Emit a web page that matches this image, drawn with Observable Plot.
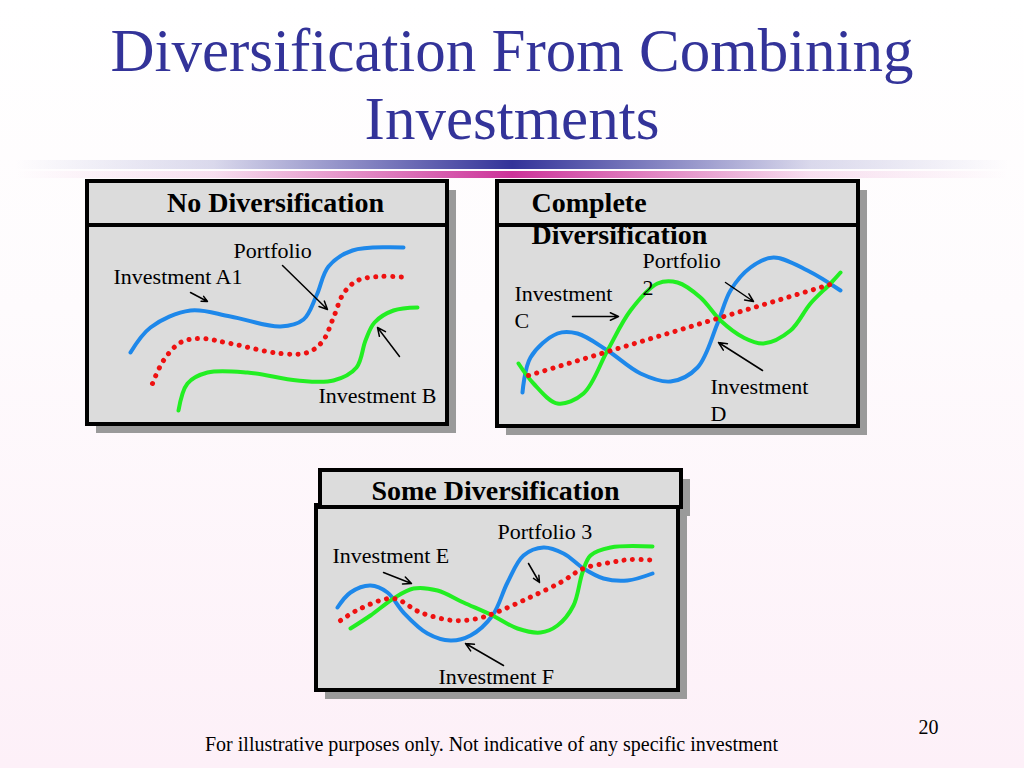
<!DOCTYPE html>
<html>
<head>
<meta charset="utf-8">
<script src="https://cdn.jsdelivr.net/npm/d3@7"></script>
<script src="https://cdn.jsdelivr.net/npm/@observablehq/plot@0.6"></script>
<style>
  html, body { margin: 0; padding: 0; }
  #slide { position: relative; width: 1024px; height: 768px; overflow: hidden;
    background: linear-gradient(to bottom, #ffffff 0%, #fefbfd 40%, #fdf0f8 100%);
    font-family: "Liberation Serif", "Times New Roman", serif; }
  #title { position: absolute; left: 0; top: 17px; width: 1024px; text-align: center;
    color: #333399; font-size: 61px; line-height: 68px; white-space: nowrap; }
  .bar { position: absolute; left: 15px; width: 994px; }
  #bar1 { top: 160px; height: 9px; background: linear-gradient(to right, rgba(51,51,153,0) 0%, rgba(51,51,153,0.18) 20%, #333399 50%, rgba(51,51,153,0.18) 80%, rgba(51,51,153,0) 100%); }
  #bar2 { top: 171px; height: 7px; background: linear-gradient(to right, rgba(204,51,153,0) 0%, rgba(204,51,153,0.15) 20%, #cc3399 50%, rgba(204,51,153,0.15) 80%, rgba(204,51,153,0) 100%); }
  #chart { position: absolute; left: 0; top: 0; }
</style>
</head>
<body>
<div id="slide">
  <div id="title">Diversification From Combining<br>Investments</div>
  <div class="bar" id="bar1"></div>
  <div class="bar" id="bar2"></div>
  <div id="chart"></div>
</div>
<script>
// ---------- data ----------
const panelHeaders = [
  {x1: 87, y1: 181, x2: 447, y2: 225},
  {x1: 497, y1: 181, x2: 858, y2: 225},
  {x1: 320, y1: 470, x2: 681, y2: 507}
];
const panelBodies = [
  {x1: 87, y1: 225, x2: 447, y2: 424},
  {x1: 497, y1: 225, x2: 858, y2: 426},
  {x1: 316, y1: 505, x2: 678, y2: 690}
];
const shadowOffset = 9;

// Panel 1: No Diversification
const investA = [[130,352],[150,327],[190,310],[230,316],[280,326],[303,319],[316,295],[328,266],[352,250],[403,247]];
const portfolio1 = [[152,383],[163,360],[180,342],[200,338],[230,343],[280,353],[307,352],[322,341],[333,317],[343,293],[357,280],[380,276],[408,277]];
const investB = [[178,410],[187,383],[207,372],[247,372],[297,380],[333,380],[356,367],[365,340],[374,322],[393,310],[417,307]];

// Panel 2: Complete Diversification
const investD = [[522,392],[530,357],[557,333],[577,333],[607,350],[640,373],[670,381],[697,367],[717,323],[730,290],[750,267],[773,257],[807,270],[840,290]];
const investC = [[518,363],[533,383],[557,403],[583,393],[607,350],[630,310],[657,283],[677,282],[700,297],[720,320],[743,337],[763,343],[790,330],[810,303],[830,283],[840,272]];
const portfolio2 = [[528,375],[833,283]];

// Panel 3: Some Diversification
const investF = [[337,607],[350,592],[370,585],[387,592],[403,612],[427,633],[450,640],[470,635],[492,615],[507,582],[523,555],[543,547],[563,553],[583,568],[603,578],[627,580],[652,573]];
const investE = [[350,628],[370,615],[393,598],[413,588],[437,590],[463,602],[492,615],[517,628],[540,632],[557,625],[573,605],[582,572],[590,555],[610,547],[652,546]];
const portfolio3 = [[340,620],[360,608],[393,598],[420,612],[453,620],[477,618],[493,613],[527,598],[560,582],[583,568],[610,562],[630,559],[657,560]];

const headerCentered = [
  {x: 275, y: 203, text: "No Diversification"},
  {x: 495, y: 491, text: "Some Diversification"}
];
const headerLeft = [
  {x: 531, y: 203, text: "Complete"},
  {x: 531, y: 235, text: "Diversification"}
];
const curveLabels = [
  {x: 113, y: 276, text: "Investment A1"},
  {x: 233, y: 250, text: "Portfolio"},
  {x: 318, y: 395, text: "Investment B"},
  {x: 642, y: 260, text: "Portfolio"},
  {x: 642, y: 287, text: "2"},
  {x: 514, y: 293, text: "Investment"},
  {x: 514, y: 320, text: "C"},
  {x: 710, y: 386, text: "Investment"},
  {x: 710, y: 413, text: "D"},
  {x: 497, y: 531, text: "Portfolio 3"},
  {x: 332, y: 555, text: "Investment E"},
  {x: 438, y: 676, text: "Investment F"}
];
const arrows = [
  {x1: 190, y1: 292, x2: 207, y2: 301},
  {x1: 282, y1: 265, x2: 327, y2: 309},
  {x1: 399, y1: 356, x2: 377, y2: 327},
  {x1: 572, y1: 316, x2: 618, y2: 316},
  {x1: 725, y1: 282, x2: 753, y2: 301},
  {x1: 762, y1: 370, x2: 718, y2: 342},
  {x1: 383, y1: 572, x2: 411, y2: 583},
  {x1: 528, y1: 563, x2: 539, y2: 582},
  {x1: 503, y1: 665, x2: 465, y2: 643}
];
const footer = {x: 491, y: 744, text: "For illustrative purposes only. Not indicative of any specific investment"};
const pageNumber = {x: 928, y: 727, text: "20"};

// ---------- chart ----------
const BLUE = "#1e88ea", GREEN = "#22ee22", RED = "#ee1111";
const shadows = [...panelBodies, ...panelHeaders].map(d => ({x1: d.x1 + shadowOffset, x2: d.x2 + shadowOffset, y1: d.y1 + shadowOffset, y2: d.y2 + shadowOffset}));
const solid = (data, color) => Plot.line(data, {x: d => d[0], y: d => d[1], stroke: color, strokeWidth: 4, curve: "catmull-rom", strokeLinecap: "round"});
const dotted = (data, curve) => Plot.line(data, {x: d => d[0], y: d => d[1], stroke: RED, strokeWidth: 5, curve, strokeLinecap: "round", strokeDasharray: "0.1 8.4"});

const chart = Plot.plot({
  width: 1024,
  height: 768,
  margin: 0,
  x: {domain: [0, 1024], range: [0, 1024], axis: null},
  y: {domain: [0, 768], range: [0, 768], axis: null},
  style: {background: "transparent", fontFamily: "'Liberation Serif', 'Times New Roman', serif"},
  marks: [
    Plot.rect(shadows, {x1: "x1", x2: "x2", y1: "y1", y2: "y2", fill: "#9a9a9a"}),
    Plot.rect(panelBodies, {x1: "x1", x2: "x2", y1: "y1", y2: "y2", fill: "#dcdcdc", stroke: "#000", strokeWidth: 4}),
    Plot.rect(panelHeaders, {x1: "x1", x2: "x2", y1: "y1", y2: "y2", fill: "#dcdcdc", stroke: "#000", strokeWidth: 4}),
    Plot.text(headerCentered, {x: "x", y: "y", text: "text", textAnchor: "middle", fontSize: 28, fontWeight: "bold", fill: "#000"}),
    Plot.text(headerLeft, {x: "x", y: "y", text: "text", textAnchor: "start", fontSize: 28, fontWeight: "bold", fill: "#000"}),
    solid(investA, BLUE),
    dotted(portfolio1, "catmull-rom"),
    solid(investB, GREEN),
    solid(investD, BLUE),
    solid(investC, GREEN),
    dotted(portfolio2, "linear"),
    solid(investF, BLUE),
    solid(investE, GREEN),
    dotted(portfolio3, "catmull-rom"),
    Plot.arrow(arrows, {x1: "x1", y1: "y1", x2: "x2", y2: "y2", stroke: "#000", strokeWidth: 1.5, headLength: 9, headAngle: 50}),
    Plot.text(curveLabels, {x: "x", y: "y", text: "text", textAnchor: "start", fontSize: 22, fill: "#000"}),
    Plot.text([footer], {x: "x", y: "y", text: "text", textAnchor: "middle", fontSize: 20, fill: "#000"}),
    Plot.text([pageNumber], {x: "x", y: "y", text: "text", textAnchor: "middle", fontSize: 20, fill: "#000"})
  ]
});
document.getElementById("chart").appendChild(chart);
</script>
</body>
</html>
